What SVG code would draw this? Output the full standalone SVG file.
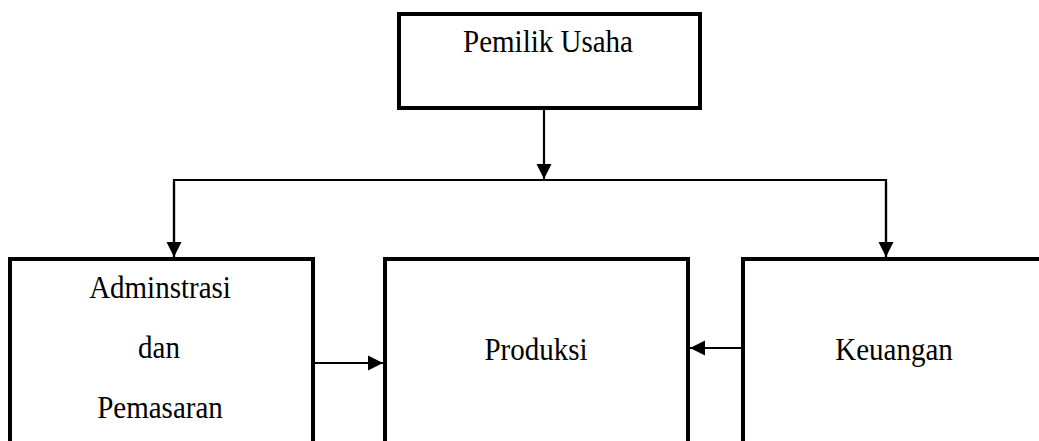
<svg xmlns="http://www.w3.org/2000/svg" width="1039" height="441" viewBox="0 0 1039 441">
  <style>
    .box { fill: #ffffff; stroke: #000000; stroke-width: 4; }
    .link { fill: none; stroke: #000000; stroke-width: 2.2; }
    .label { font-family: "Liberation Serif", "Times New Roman", serif; font-size: 29px; fill: #000000; text-anchor: middle; }
  </style>
  <defs>
    <marker id="arrow" markerUnits="userSpaceOnUse" markerWidth="16" markerHeight="16" refX="15" refY="8" orient="auto">
      <path d="M0,0.5 L15,8 L0,15.5 Z" fill="#000000"/>
    </marker>
  </defs>

  <rect width="1039" height="441" fill="#ffffff"/>

  <!-- owner -->
  <g id="node-pemilik">
    <rect class="box" x="399" y="14" width="301" height="94"/>
    <text class="label" transform="translate(548,52) scale(1,1.08)">Pemilik Usaha</text>
  </g>

  <!-- administration and marketing (runs past the bottom edge) -->
  <g id="node-administrasi">
    <rect class="box" x="10" y="259" width="303" height="240"/>
    <text class="label" transform="translate(160,298) scale(1,1.08)">Adminstrasi</text>
    <text class="label" transform="translate(159,358) scale(1,1.08)">dan</text>
    <text class="label" transform="translate(160,418) scale(1,1.08)">Pemasaran</text>
  </g>

  <!-- production -->
  <g id="node-produksi">
    <rect class="box" x="385" y="259" width="303" height="240"/>
    <text class="label" transform="translate(536,360) scale(1,1.08)">Produksi</text>
  </g>

  <!-- finance (runs past the right edge) -->
  <g id="node-keuangan">
    <rect class="box" x="743" y="259" width="340" height="240"/>
    <text class="label" transform="translate(894,360) scale(1,1.08)">Keuangan</text>
  </g>

  <g id="connectors">
    <line class="link" x1="544" y1="108" x2="544" y2="179" marker-end="url(#arrow)"/>
    <polyline class="link" points="174,257 174,180 886,180 886,257"/>
    <line class="link" x1="174" y1="182" x2="174" y2="257" marker-end="url(#arrow)"/>
    <line class="link" x1="886" y1="182" x2="886" y2="257" marker-end="url(#arrow)"/>
    <line class="link" x1="313" y1="363" x2="383" y2="363" marker-end="url(#arrow)"/>
    <line class="link" x1="743" y1="348" x2="690" y2="348" marker-end="url(#arrow)"/>
  </g>
</svg>
